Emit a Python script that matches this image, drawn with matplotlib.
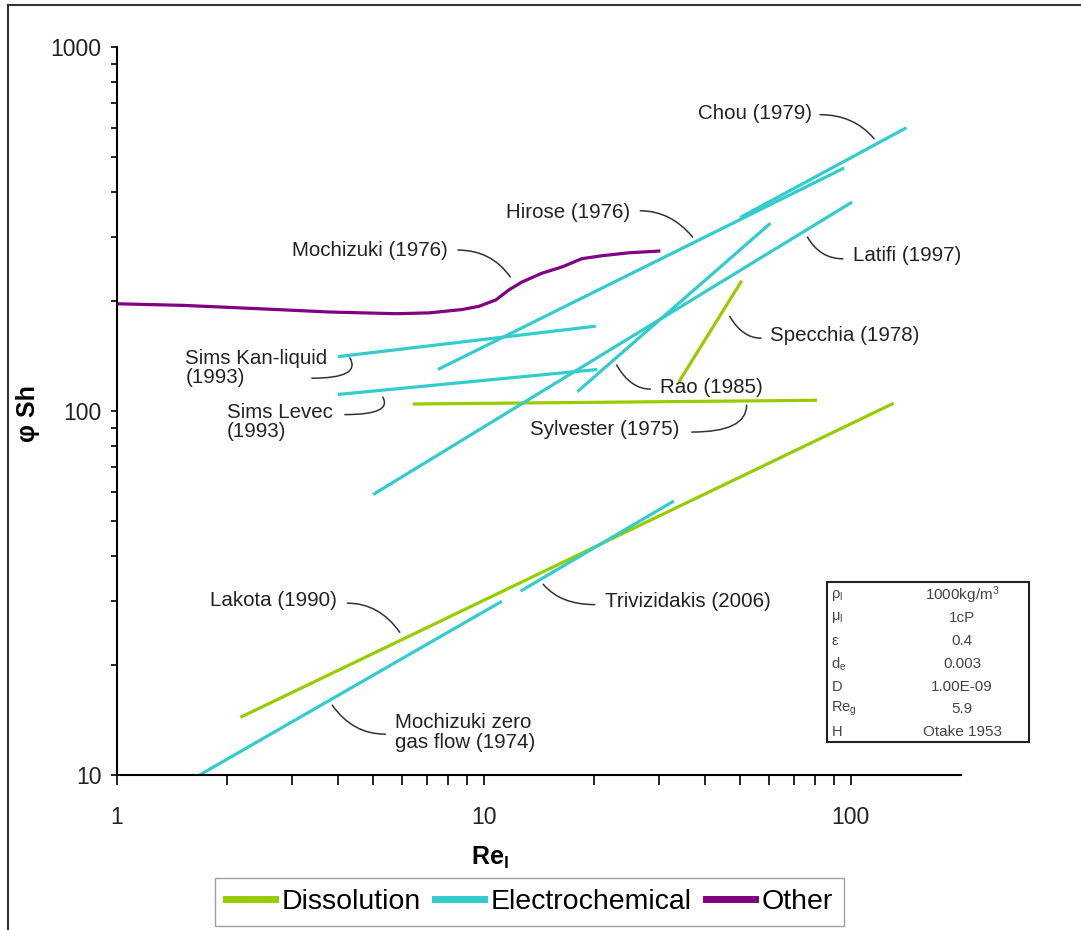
import matplotlib.pyplot as plt
from matplotlib.lines import Line2D
from matplotlib.patches import Rectangle

plt.rcParams["font.family"] = ["Liberation Sans", "DejaVu Sans"]
plt.rcParams["mathtext.fontset"] = "custom"
plt.rcParams["mathtext.rm"] = "Liberation Sans"
plt.rcParams["mathtext.it"] = "Liberation Sans:italic"
plt.rcParams["mathtext.bf"] = "Liberation Sans:bold"

green = "#99CC00"
cyan = "#33CCCC"
purple = "#800080"
ink = "#333333"

# --- correlations, (Re_l, phi*Sh) ---
# dissolution
lakota_re, lakota_sh = [2.17, 131], [14.4, 105]
sylvester_re, sylvester_sh = [6.4, 81], [104.5, 107]
specchia_re, specchia_sh = [34, 50.5], [120, 228]

# electrochemical
chou_re, chou_sh = [50, 142], [340, 600]
hirose_re, hirose_sh = [7.5, 96], [130, 465]
latifi_re, latifi_sh = [5.0, 101], [59, 375]
rao_re, rao_sh = [18, 60.5], [113, 328]
kan_re, kan_sh = [4.0, 20.2], [141, 171]
levec_re, levec_sh = [4.0, 20.4], [111, 130]
triv_re, triv_sh = [12.6, 33], [32, 56.6]
mzero_re, mzero_sh = [1.68, 11.2], [10, 30]

# other
moch_re = [1.0, 1.52, 2.42, 3.80, 5.78, 7.11, 8.74, 9.72, 10.8, 11.7,
           12.7, 14.4, 16.4, 18.5, 21.0, 24.9, 30.0]
moch_sh = [197, 195, 191, 187, 185, 186, 190, 194, 202, 215,
           226, 239, 249, 262, 267, 272, 275]

dissolution = [(lakota_re, lakota_sh), (sylvester_re, sylvester_sh),
               (specchia_re, specchia_sh)]
electrochemical = [(chou_re, chou_sh), (hirose_re, hirose_sh),
                   (latifi_re, latifi_sh), (rao_re, rao_sh),
                   (kan_re, kan_sh), (levec_re, levec_sh),
                   (triv_re, triv_sh), (mzero_re, mzero_sh)]

# labels: text, text pos (axes frac), ha, leader start, leader end, angleB
labels = [
    ("Chou (1979)", (0.823, 0.908), "right", (0.833, 0.907), (0.897, 0.874), -50),
    ("Hirose (1976)", (0.608, 0.773), "right", (0.620, 0.775), (0.682, 0.739), -50),
    ("Mochizuki (1976)", (0.392, 0.720), "right", (0.404, 0.721), (0.466, 0.684), -55),
    ("Latifi (1997)", (0.872, 0.714), "left", (0.860, 0.709), (0.818, 0.739), -60),
    ("Specchia (1978)", (0.774, 0.603), "left", (0.763, 0.600), (0.726, 0.630), -60),
    ("Rao (1985)", (0.643, 0.532), "left", (0.632, 0.530), (0.592, 0.563), -60),
    ("Sylvester (1975)", (0.489, 0.474), "left", (0.681, 0.471), (0.746, 0.508), 90),
    ("Sims Kan-liquid\n(1993)", (0.081, 0.559), "left", (0.231, 0.545), (0.276, 0.573), -60),
    ("Sims Levec\n(1993)", (0.130, 0.485), "left", (0.270, 0.495), (0.315, 0.519), -60),
    ("Lakota (1990)", (0.110, 0.240), "left", (0.273, 0.236), (0.335, 0.196), -55),
    ("Mochizuki zero\ngas flow (1974)", (0.329, 0.058), "left", (0.318, 0.056), (0.255, 0.096), -55),
    ("Trivizidakis (2006)", (0.578, 0.238), "left", (0.566, 0.234), (0.505, 0.262), -50),
]

table_keys = [r"ρ$_\mathrm{l}$", r"μ$_\mathrm{l}$", "ε", r"d$_\mathrm{e}$", "D",
              r"Re$_\mathrm{g}$", "H"]
table_vals = [r"1000kg/m$^\mathrm{3}$", "1cP", "0.4", "0.003", "1.00E-09", "5.9",
              "Otake 1953"]

fig = plt.figure(figsize=(10.81, 9.30), dpi=100)
ax = fig.add_axes([0.1082, 0.1667, 0.7808, 0.7828])

for re, sh in dissolution:
    ax.plot(re, sh, color=green, lw=2.3, solid_capstyle="butt")
for re, sh in electrochemical:
    ax.plot(re, sh, color=cyan, lw=2.3, solid_capstyle="butt")
ax.plot(moch_re, moch_sh, color=purple, lw=2.3)

ax.set_xscale("log")
ax.set_yscale("log")
ax.set_xlim(1, 200)
ax.set_ylim(10, 1000)

ax.set_xticks([1, 10, 100])
ax.set_xticklabels(["1", "10", "100"])
ax.set_xticks(list(range(2, 10)) + list(range(20, 100, 10)), minor=True)
ax.set_xticklabels([], minor=True)
ax.set_yticks([10, 100, 1000])
ax.set_yticklabels(["10", "100", "1000"])
ax.set_yticks(list(range(20, 100, 10)) + list(range(200, 1000, 100)), minor=True)
ax.set_yticklabels([], minor=True)

ax.tick_params(axis="x", which="both", direction="out", length=7, width=1.2,
               pad=15, labelsize=16.5, colors="black")
ax.tick_params(axis="y", which="both", direction="out", length=4, width=1.2,
               pad=7, labelsize=16.5, colors="black")
ax.tick_params(labelcolor="#222222")

for s in ["top", "right"]:
    ax.spines[s].set_visible(False)
for s in ["left", "bottom"]:
    ax.spines[s].set_linewidth(1.5)

ax.set_xlabel(r"$\mathbf{Re_l}$", fontsize=18)
ax.set_ylabel("φ Sh", fontsize=18, fontweight="bold")
ax.xaxis.set_label_coords(0.442, -0.096)
ax.yaxis.set_label_coords(-0.091, 0.497)

for text, txy, ha, start, end, angb in labels:
    ax.text(txy[0], txy[1], text, transform=ax.transAxes, ha=ha, va="center",
            fontsize=14.8, color="#222222", linespacing=1.05)
    ax.annotate("", xy=end, xytext=start, xycoords="axes fraction",
                textcoords="axes fraction",
                arrowprops=dict(arrowstyle="-", color=ink, lw=1.1,
                                shrinkA=0, shrinkB=0,
                                connectionstyle=f"angle3,angleA=0,angleB={angb}"))

# parameter box
fig.add_artist(Rectangle((0.765, 0.2022), 0.187, 0.172, transform=fig.transFigure,
                         fill=False, edgecolor="#222222", lw=1.5))
row_y = [0.360, 0.3355, 0.3108, 0.286, 0.261, 0.2376, 0.2129]
for key, val, y in zip(table_keys, table_vals, row_y):
    fig.text(0.769, y, key, ha="left", va="center", fontsize=10.5, color="#444444")
    fig.text(0.890, y, val, ha="center", va="center", fontsize=11, color="#444444")

handles = [Line2D([], [], color=c, lw=5) for c in (green, cyan, purple)]
fig.legend(handles, ["Dissolution", "Electrochemical", "Other"], loc="center",
           bbox_to_anchor=(0.490, 0.030), ncol=3, fontsize=20.5, frameon=True,
           fancybox=False, edgecolor="#888888", handlelength=1.7,
           handletextpad=0.25, columnspacing=0.5, borderpad=0.4)

# outer frame (left and top edges visible)
fig.add_artist(Line2D([0.0074, 0.0074], [0.0, 0.9946], transform=fig.transFigure,
                      color=ink, lw=1.5))
fig.add_artist(Line2D([0.0074, 1.0], [0.9946, 0.9946], transform=fig.transFigure,
                      color=ink, lw=1.5))

fig.savefig("out.png", dpi=100)
